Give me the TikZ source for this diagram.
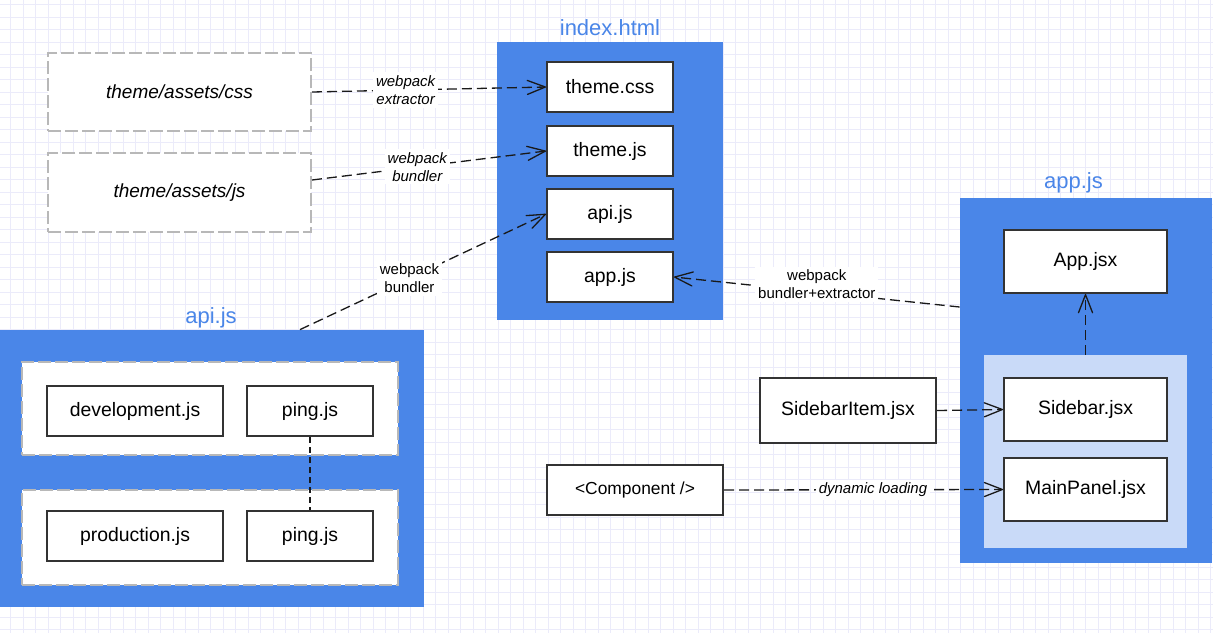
\documentclass[tikz,border=0pt]{standalone}
\usepackage{fontspec}
\setmainfont{Liberation Sans}
\usetikzlibrary{arrows.meta}
\definecolor{cblue}{HTML}{4A86E8}
\definecolor{clight}{HTML}{C9DAF8}
\definecolor{cgrid}{HTML}{EBEBFA}
\definecolor{cgray}{HTML}{B8B8B8}
\definecolor{cborder}{HTML}{333333}
\tikzset{
  gridline/.style={draw=cgrid, line width=0.5pt},
  filebox/.style={draw=cborder, fill=white, line width=1pt, inner sep=0pt, font=\fontsize{9.7}{11}\selectfont},
  groupbox/.style={draw=cgray, fill=white, line width=1pt, dash pattern=on 6.5pt off 2pt, inner sep=0pt, font=\fontsize{9.5}{11}\selectfont\itshape},
  container/.style={fill=cblue, inner sep=0pt},
  subcontainer/.style={fill=clight, inner sep=0pt},
  ctitle/.style={text=cblue, font=\fontsize{11}{13}\selectfont, inner sep=0pt},
  conn/.style={draw=black!90, line width=0.65pt, dash pattern=on 5pt off 2.5pt,
    -{Straight Barb[length=9pt,width=7pt,line width=0.65pt,round]}},
  plain/.style={draw=black!90, line width=0.6pt, dash pattern=on 3pt off 2pt},
  elabel/.style={fill=white, align=center, inner sep=1.5pt, font=\fontsize{7.5}{9}\selectfont},
  ilabel/.style={elabel, font=\fontsize{7.5}{9}\selectfont\itshape},
}
\begin{document}
\begin{tikzpicture}[x=0.5pt, y=-0.5pt]
\useasboundingbox (0,0) rectangle (1213,633);
\fill[white] (0,0) rectangle (1213,633);
\foreach \gx in {10.8,23.3,...,1213} {\draw[gridline] (\gx,0) -- (\gx,633);}
\foreach \gy in {4.8,17.3,...,633} {\draw[gridline] (0,\gy) -- (1213,\gy);}

% left theme sources
\node[groupbox, minimum width=131.5pt, minimum height=39pt] (cssbox) at (179.5,92) {theme/assets/css};
\node[groupbox, minimum width=131.5pt, minimum height=39.5pt] (jsbox) at (179.5,192.5) {theme/assets/js};

% index.html container
\node[container, minimum width=113pt, minimum height=139pt] (indexc) at (610,181) {};
\node[ctitle] (indext) at (610,28) {index.html};
\node[filebox, minimum width=63pt, minimum height=25pt] (themecss) at (610,87) {theme.css};
\node[filebox, minimum width=63pt, minimum height=25pt] (themejs) at (610,151) {theme.js};
\node[filebox, minimum width=63pt, minimum height=25pt] (apijs) at (610,214) {api.js};
\node[filebox, minimum width=63pt, minimum height=25pt] (appjs) at (610,277) {app.js};

% api.js container
\node[container, minimum width=212pt, minimum height=138.5pt] (apic) at (212,468.5) {};
\node[ctitle] (apit) at (211,318) {api.js};
\node[groupbox, minimum width=188pt, minimum height=46.5pt] (devg) at (210,408.5) {};
\node[groupbox, minimum width=188pt, minimum height=47.5pt] (prodg) at (210,537.5) {};
\node[filebox, minimum width=88pt, minimum height=25pt] (devjs) at (135,411) {development.js};
\node[filebox, minimum width=63pt, minimum height=25pt] (ping1) at (310,411) {ping.js};
\node[filebox, minimum width=88pt, minimum height=25pt] (prodjs) at (135,536) {production.js};
\node[filebox, minimum width=63pt, minimum height=25pt] (ping2) at (310,536) {ping.js};

% app.js container
\node[container, minimum width=126pt, minimum height=182.5pt] (appc) at (1086,380.5) {};
\node[ctitle] (appt) at (1073.5,183) {app.js};
\node[filebox, minimum width=81.5pt, minimum height=31.5pt] (appjsx) at (1085.5,261.5) {App.jsx};
\node[subcontainer, minimum width=101.5pt, minimum height=96.5pt] (light) at (1085.5,451.5) {};
\node[filebox, minimum width=81.5pt, minimum height=31.5pt] (sidebar) at (1085.5,409.5) {Sidebar.jsx};
\node[filebox, minimum width=81.5pt, minimum height=31.5pt] (mainpanel) at (1085.5,489.5) {MainPanel.jsx};

% outside components
\node[filebox, minimum width=88pt, minimum height=32.5pt] (sideitem) at (848,410.5) {SidebarItem.jsx};
\node[filebox, minimum width=88pt, minimum height=25pt, font=\fontsize{8.7}{10}\selectfont] (component) at (635,490) {<Component />};

% connectors
\draw[conn] (cssbox.east) -- node[ilabel, pos=0.4] {webpack\\extractor} (themecss.west);
\draw[conn] ([yshift=6.25pt]jsbox.east) -- node[ilabel, pos=0.45] {webpack\\bundler} (themejs.west);
\draw[conn] ([xshift=44pt]apic.north) -- node[elabel, pos=0.445] {webpack\\bundler} (apijs.west);
\draw[conn] ([yshift=36.75pt]appc.west) -- node[elabel, pos=0.5, yshift=4pt] {webpack\\bundler+extractor} (appjs.east);
\draw[conn] (light.north) -- (appjsx.south);
\draw[conn] (sideitem.east) -- (sidebar.west);
\draw[conn] (component.east) -- node[ilabel, pos=0.534] {dynamic loading} (mainpanel.west);
\draw[plain] (ping1.south) -- (ping2.north);
\end{tikzpicture}
\end{document}
